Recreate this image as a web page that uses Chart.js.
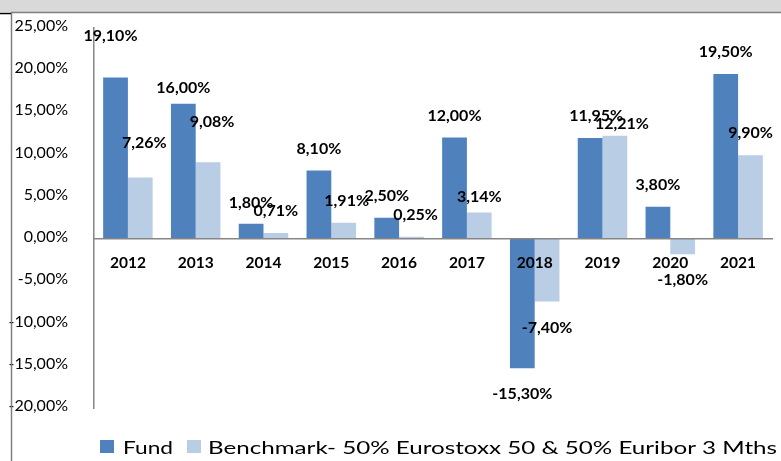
<!DOCTYPE html>
<html><head><meta charset="utf-8">
<script src="https://cdn.jsdelivr.net/npm/chart.js@4.4.1/dist/chart.umd.min.js"></script>
<style>html,body{margin:0;padding:0;background:#fff;overflow:hidden}#wrap{width:781px;height:461px;position:relative}</style>
</head><body><div id="wrap"><canvas id="c" width="781" height="461"></canvas></div>
<script>
const years = ['2012','2013','2014','2015','2016','2017','2018','2019','2020','2021'];
const fundValues = [19.10, 16.00, 1.80, 8.10, 2.50, 12.00, -15.30, 11.95, 3.80, 19.50];
const benchValues = [7.26, 9.08, 0.71, 1.91, 0.25, 3.14, -7.40, 12.21, -1.80, 9.90];
const yTickValues = [25, 20, 15, 10, 5, 0, -5, -10, -15, -20];
const seriesNames = ['Fund', 'Benchmark- 50% Eurostoxx 50 & 50% Euribor 3 Mths'];

// manual label nudges (pixels) relative to default placement
const fundLabelNudgeX = [-5, 0, 0, 0, 0, 0, 0, 6, 0, 0];
const fundLabelNudgeY = [-20, 6, 1, 0, 0, 0, 0, 0, 0, 0];
const benchLabelNudgeX = [4, 4, 0, 3, 4, 0, 0, 7, 0, 0];
const benchLabelNudgeY = [-13, -18, 0, 0, 0, 6, 0, 10, 0, 0];

const fundColor = '#4F81BD';
const benchColor = '#B9CDE5';
const axisColor = '#868686';

function fmt(v) { return v.toFixed(2).replace('.', ',') + '%'; }

const nudges = [[fundLabelNudgeX, fundLabelNudgeY], [benchLabelNudgeX, benchLabelNudgeY]];

const labelPlugin = {
  id: 'valueLabels',
  afterDraw(chart) {
    const ctx = chart.ctx;
    ctx.save();
    ctx.font = 'bold 16px Lato';
    ctx.fillStyle = '#000';
    ctx.textAlign = 'center';
    ctx.textBaseline = 'middle';
    chart.data.datasets.forEach((ds, di) => {
      const meta = chart.getDatasetMeta(di);
      meta.data.forEach((bar, i) => {
        const v = ds.data[i];
        const dy = v >= 0 ? -22 : 26;
        ctx.fillText(fmt(v), bar.x + nudges[di][0][i], bar.y + dy + nudges[di][1][i]);
      });
    });
    ctx.restore();
  }
};

const framePlugin = {
  id: 'frame',
  beforeDraw(chart) {
    const ctx = chart.ctx;
    ctx.save();
    ctx.fillStyle = '#fff';
    ctx.fillRect(0, 0, chart.width, chart.height);
    ctx.restore();
  },
  afterDraw(chart) {
    const ctx = chart.ctx;
    ctx.save();
    ctx.fillStyle = '#d9d9d9';
    ctx.fillRect(0, 0, chart.width, 12);
    ctx.strokeStyle = '#7f7f7f';
    ctx.lineWidth = 1.5;
    ctx.beginPath();
    ctx.moveTo(11, 12.5); ctx.lineTo(chart.width, 12.5);
    ctx.moveTo(11.5, 12); ctx.lineTo(11.5, chart.height);
    ctx.stroke();
    ctx.strokeStyle = '#000';
    ctx.beginPath();
    ctx.moveTo(0, 13.5); ctx.lineTo(11, 13.5);
    ctx.stroke();
    // legend
    const items = [
      {color: fundColor, bx: 100, tx: 123, w: 50},
      {color: benchColor, bx: 187, tx: 208, w: 569}
    ];
    ctx.font = '18px Lato';
    ctx.textBaseline = 'alphabetic';
    ctx.textAlign = 'left';
    items.forEach((it, k) => {
      ctx.fillStyle = it.color;
      ctx.fillRect(it.bx, 440, 14, 13);
      const m = ctx.measureText(seriesNames[k]).width;
      ctx.save();
      ctx.translate(it.tx, 453.5);
      ctx.scale(it.w / m, 1);
      ctx.fillStyle = '#000';
      ctx.fillText(seriesNames[k], 0, 0);
      ctx.restore();
    });
    ctx.restore();
  }
};

new Chart(document.getElementById('c'), {
  type: 'bar',
  data: {
    labels: years,
    datasets: [
      {label: seriesNames[0], data: fundValues, backgroundColor: fundColor, borderWidth: 0, categoryPercentage: 0.73, barPercentage: 1.0},
      {label: seriesNames[1], data: benchValues, backgroundColor: benchColor, borderWidth: 0, categoryPercentage: 0.73, barPercentage: 1.0}
    ]
  },
  options: {
    responsive: false,
    animation: false,
    devicePixelRatio: 1,
    layout: {padding: {left: 0, right: 9, top: 25, bottom: 53}},
    plugins: {legend: {display: false}, tooltip: {enabled: false}},
    scales: {
      x: {
        type: 'category',
        position: {y: 0},
        offset: true,
        grid: {display: false},
        border: {display: true, color: axisColor, width: 1.5, z: 1},
        ticks: {z: 1, color: '#000', font: {family: 'Lato', size: 15.5, weight: 'bold'}, padding: 7, maxRotation: 0, autoSkip: false}
      },
      y: {
        min: -20, max: 25,
        afterBuildTicks: s => { s.ticks = yTickValues.map(v => ({value: v})); },
        afterFit: s => { s.width = 94; },
        grid: {display: false},
        border: {display: true, color: axisColor, width: 1.5},
        ticks: {color: '#000', font: {family: 'Lato', size: 16}, padding: 18, labelOffset: -2, callback: v => fmt(v)}
      }
    }
  },
  plugins: [framePlugin, labelPlugin]
});
</script>
</body></html>
